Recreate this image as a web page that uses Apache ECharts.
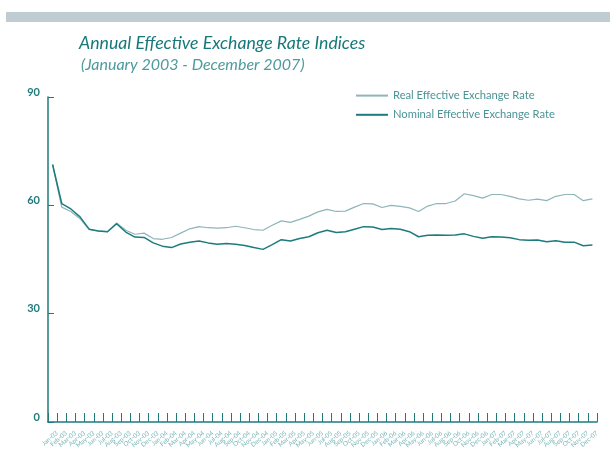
<!DOCTYPE html>
<html>
<head>
<meta charset="utf-8">
<script src="https://cdn.jsdelivr.net/npm/echarts@6/dist/echarts.min.js"></script>
<style>
html,body{margin:0;padding:0;background:#fff;}
#chart{width:610px;height:465px;}
</style>
</head>
<body>
<div id="chart"></div>
<script>
var months = [
 'Jan-03','Feb-03','Mar-03','Apr-03','May-03','Jun-03','Jul-03','Aug-03','Sep-03','Oct-03','Nov-03','Dec-03',
 'Jan-04','Feb-04','Mar-04','Apr-04','May-04','Jun-04','Jul-04','Aug-04','Sep-04','Oct-04','Nov-04','Dec-04',
 'Jan-05','Feb-05','Mar-05','Apr-05','May-05','Jun-05','Jul-05','Aug-05','Sep-05','Oct-05','Nov-05','Dec-05',
 'Jan-06','Feb-06','Mar-06','Apr-06','May-06','Jun-06','Jul-06','Aug-06','Sep-06','Oct-06','Nov-06','Dec-06',
 'Jan-07','Feb-07','Mar-07','Apr-07','May-07','Jun-07','Jul-07','Aug-07','Sep-07','Oct-07','Nov-07','Dec-07'
];
var realRate = [
 71.3, 59.5, 58.3, 56.3, 53.3, 52.9, 52.7, 55.1, 53.1, 52.0, 52.3, 50.8,
 50.6, 51.1, 52.3, 53.5, 54.1, 53.8, 53.7, 53.8, 54.2, 53.8, 53.3, 53.1,
 54.5, 55.7, 55.3, 56.1, 57.0, 58.2, 58.9, 58.3, 58.4, 59.5, 60.5, 60.4,
 59.4, 60.0, 59.7, 59.3, 58.3, 59.8, 60.5, 60.5, 61.2, 63.2, 62.7, 62.0,
 63.0, 63.0, 62.5, 61.8, 61.4, 61.7, 61.3, 62.5, 63.0, 63.0, 61.3, 61.8
];
var nominalRate = [
 71.3, 60.5, 59.0, 56.8, 53.4, 52.9, 52.7, 54.9, 52.6, 51.2, 51.1, 49.6,
 48.7, 48.3, 49.3, 49.8, 50.1, 49.6, 49.2, 49.4, 49.2, 48.9, 48.3, 47.8,
 49.1, 50.5, 50.1, 50.8, 51.3, 52.4, 53.1, 52.5, 52.7, 53.4, 54.1, 54.0,
 53.3, 53.6, 53.4, 52.7, 51.3, 51.7, 51.8, 51.7, 51.8, 52.1, 51.4, 50.9,
 51.3, 51.2, 51.0, 50.5, 50.3, 50.4, 49.9, 50.2, 49.8, 49.8, 48.8, 49.0
];
var yTicks = [0, 30, 60, 90];

var teal = '#1f7b7d';
var chart = echarts.init(document.getElementById('chart'), null, {renderer: 'canvas'});
chart.setOption({
  animation: false,
  backgroundColor: '#ffffff',
  graphic: [{
    type: 'rect', left: 6, top: 12,
    shape: {width: 604, height: 10},
    style: {fill: '#bfcdd2'}, silent: true
  }],
  title: [{
    text: 'Annual Effective Exchange Rate Indices',
    left: 74, top: 29,
    textStyle: {fontFamily: 'Lato', fontStyle: 'italic', fontWeight: 'normal', fontSize: 17.7, color: '#17777a'}
  }, {
    text: '(January 2003 - December 2007)',
    left: 76, top: 52,
    textStyle: {fontFamily: 'Lato', fontStyle: 'italic', fontWeight: 'normal', fontSize: 16, color: '#4e9a9c'}
  }],
  legend: {
    orient: 'vertical',
    left: 350, top: 85,
    itemWidth: 32, itemHeight: 14, itemGap: 8,
    itemStyle: {opacity: 0},
    textStyle: {fontFamily: 'Lato', fontSize: 11.2, color: '#4a9496'},
    data: ['Real Effective Exchange Rate', 'Nominal Effective Exchange Rate']
  },
  grid: {left: 48, right: 13, top: 97, bottom: 43, containLabel: false},
  xAxis: {
    type: 'category',
    data: months,
    boundaryGap: true,
    axisLine: {lineStyle: {color: teal, width: 1.5}},
    axisTick: {show: true, inside: true, length: 9, interval: 0, lineStyle: {color: teal, width: 1}},
    axisLabel: {
      interval: 0, rotate: 40, fontSize: 6.3, fontFamily: 'Lato', color: '#78b6b8',
      margin: 5, verticalAlign: 'top', lineHeight: 14
    },
    splitLine: {show: false}
  },
  yAxis: {
    type: 'value', min: yTicks[0], max: yTicks[yTicks.length - 1], interval: 30,
    axisLine: {show: true, lineStyle: {color: teal, width: 1.5}},
    axisTick: {show: true, inside: true, length: 6, lineStyle: {color: teal, width: 1}},
    axisLabel: {fontFamily: 'Lato', fontWeight: 'bold', fontSize: 11, color: '#217a7c', margin: 8,
      verticalAlign: 'bottom', lineHeight: 10},
    splitLine: {show: false}
  },
  series: [{
    name: 'Real Effective Exchange Rate',
    type: 'line', data: realRate, symbol: 'none', smooth: false,
    lineStyle: {color: '#8fb5ba', width: 1.2},
    itemStyle: {color: '#8fb5ba'}
  }, {
    name: 'Nominal Effective Exchange Rate',
    type: 'line', data: nominalRate, symbol: 'none', smooth: false,
    lineStyle: {color: '#1c7b7d', width: 1.5},
    itemStyle: {color: '#1c7b7d'}
  }]
});
</script>
</body>
</html>
